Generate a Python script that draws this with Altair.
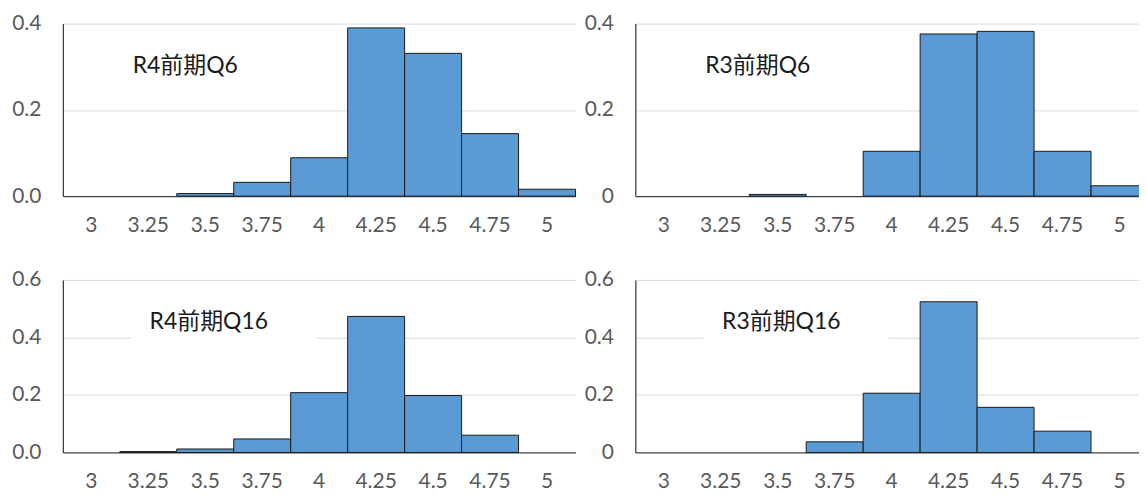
import altair as alt
import pandas as pd

categories = ["3", "3.25", "3.5", "3.75", "4", "4.25", "4.5", "4.75", "5"]
r4_q6 = [0, 0, 0.006, 0.032, 0.089, 0.390, 0.331, 0.145, 0.016]
r3_q6 = [0, 0, 0.004, 0, 0.104, 0.376, 0.382, 0.104, 0.024]
r4_q16 = [0, 0.003, 0.012, 0.047, 0.208, 0.473, 0.198, 0.060, 0]
r3_q16 = [0, 0, 0, 0.037, 0.206, 0.524, 0.157, 0.074, 0]

titles = ["R4前期Q6", "R3前期Q6", "R4前期Q16", "R3前期Q16"]
series = [r4_q6, r3_q6, r4_q16, r3_q16]
ymax = [0.4, 0.4, 0.6, 0.6]
yticks = [[0, 0.2, 0.4], [0, 0.2, 0.4], [0, 0.2, 0.4, 0.6], [0, 0.2, 0.4, 0.6]]
left_side = [True, False, True, False]
top_row = [True, True, False, False]

W, H = 514, 173
LABEL_FONT = "Lato"
TEXT_FONT = "Lato, 'Noto Sans CJK SC'"


def panel(i):
    df = pd.DataFrame({"cat": categories, "v": series[i]})
    fmt = ("format(datum.value, '.1f')" if left_side[i]
           else "datum.value == 0 ? '0' : format(datum.value, '.1f')")
    bars = alt.Chart(df).transform_filter("datum.v > 0").mark_bar(
        color="#5B9BD5", stroke="#1a1a1a", strokeWidth=1
    ).encode(
        x=alt.X("cat:O", sort=categories,
                scale=alt.Scale(domain=categories, paddingInner=0, paddingOuter=0),
                axis=alt.Axis(title=None, labelAngle=0, ticks=False, labelPadding=18,
                              labelFontSize=21, labelFont=LABEL_FONT, labelColor="#595959",
                              domain=False, grid=False)),
        y=alt.Y("v:Q", scale=alt.Scale(domain=[0, ymax[i]], nice=False),
                axis=alt.Axis(title=None, values=yticks[i], labelExpr=fmt, ticks=False,
                              labelPadding=22, labelFontSize=21, labelFont=LABEL_FONT,
                              labelColor="#595959", domainColor="#404040", domainWidth=1.3,
                              gridColor={"condition": {"test": "datum.value === 0",
                                                       "value": "#404040"},
                                         "value": "#D9D9D9"},
                              gridWidth={"condition": {"test": "datum.value === 0",
                                                       "value": 1.3},
                                         "value": 1})),
    )
    tdf = pd.DataFrame({"t": [titles[i]]})
    if top_row[i]:
        bx, bx2, by, by2, tx, ty = 51, 228, 25, 62, 70, 43
    else:
        bx, bx2, by, by2, tx, ty = 68, 254, 22, 62, 87, 42
    box = alt.Chart(tdf).mark_rect(color="white").encode(
        x=alt.value(bx), x2=alt.value(bx2), y=alt.value(by), y2=alt.value(by2)
    )
    txt = alt.Chart(tdf).mark_text(
        align="left", baseline="middle", fontSize=23, font=TEXT_FONT, color="#1a1a1a"
    ).encode(text="t:N", x=alt.value(tx), y=alt.value(ty))
    return alt.layer(bars, box, txt).properties(width=W, height=H)


chart = alt.concat(
    *[panel(i) for i in range(4)], columns=2, align="each",
    spacing={"row": 34, "column": 7}
).configure(
    padding={"left": 3, "top": 4, "right": -10, "bottom": 1}
).configure_view(stroke=None)

chart.save("out.html", embed_options={"renderer": "svg", "actions": False})
